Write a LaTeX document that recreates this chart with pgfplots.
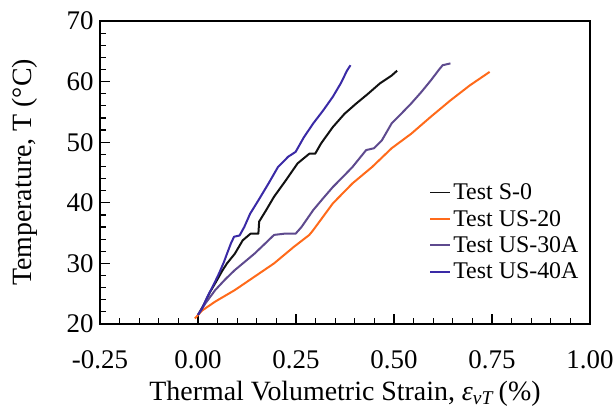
\documentclass[border=0pt]{standalone}
\usepackage{fontspec}
\setmainfont{Liberation Serif}
\usepackage{pgfplots}
\pgfplotsset{compat=1.18}
\definecolor{cblack}{HTML}{111111}
\definecolor{corange}{HTML}{FF6A1A}
\definecolor{cpurple}{HTML}{5E4A8E}
\definecolor{cblue}{HTML}{3A2AA6}
\begin{document}
\begin{tikzpicture}
\begin{axis}[
  scale only axis,
  width=490bp, height=303bp,
  xmin=-0.25, xmax=1.0, ymin=20, ymax=70,
  xtick={-0.25,0,0.25,0.5,0.75,1.0},
  xticklabels={-0.25,0.00,0.25,0.50,0.75,1.00},
  ytick={20,30,40,50,60,70},
  minor x tick num=4, minor y tick num=4,
  tick pos=left, tick align=inside,
  major tick length=10bp, minor tick length=6bp,
  every tick/.style={black, line width=1.2bp},
  axis line style={line width=1.6bp},
  /pgf/number format/assume math mode=true,
  tick label style={font=\fontsize{27}{30}\selectfont},
  xticklabel style={yshift=-23bp},
  yticklabel style={xshift=-3bp},
  xlabel={Thermal Volumetric Strain, \textit{ε}\textsubscript{\textit{vT}}\,(\%)},
  ylabel={Temperature, T (°C)},
  label style={font=\fontsize{28}{32}\selectfont, inner sep=0pt},
  xlabel style={at={(rel axis cs:0.5,-0.188)}, anchor=north},
  ylabel style={at={(rel axis cs:-0.128,0.5)}, anchor=south},
  legend style={at={(rel axis cs:0.672,0.47)}, anchor=north west, draw=none, fill=none,
    font=\fontsize{24}{27}\selectfont, row sep=5bp, inner sep=0pt},
  legend cell align=left,
  legend image code/.code={\draw[#1, line width=1.8bp] (0bp,0bp) -- (20bp,0bp);},
  every axis plot/.append style={line width=2bp, line join=round},
]
\addplot[cblack] coordinates {(0.000,21.5) (0.015,23.2) (0.030,25.2) (0.049,27.3) (0.062,28.8) (0.074,30.0) (0.094,31.6) (0.114,33.8) (0.134,34.9) (0.154,34.9) (0.156,36.9) (0.174,38.8) (0.194,41.0) (0.224,43.7) (0.254,46.5) (0.284,48.1) (0.299,48.1) (0.314,49.8) (0.344,52.5) (0.374,54.7) (0.404,56.4) (0.434,58.0) (0.464,59.7) (0.494,61.0) (0.508,61.8)};
\addlegendentry{Test S-0}
\addplot[corange] coordinates {(-0.008,20.9) (0.010,22.2) (0.044,23.7) (0.094,25.6) (0.144,27.8) (0.194,30.0) (0.244,32.7) (0.284,34.7) (0.294,35.5) (0.344,39.9) (0.394,43.2) (0.444,45.9) (0.494,49.0) (0.544,51.4) (0.594,54.2) (0.644,56.9) (0.694,59.4) (0.744,61.6)};
\addlegendentry{Test US-20}
\addplot[cpurple] coordinates {(0.000,21.5) (0.020,23.5) (0.044,25.6) (0.070,27.4) (0.094,28.9) (0.120,30.3) (0.144,31.6) (0.170,33.2) (0.194,34.7) (0.220,34.9) (0.249,34.9) (0.264,36.0) (0.294,38.8) (0.320,40.8) (0.344,42.6) (0.370,44.3) (0.394,45.9) (0.429,48.7) (0.449,49.0) (0.469,50.3) (0.494,53.1) (0.520,54.8) (0.544,56.4) (0.570,58.3) (0.594,60.2) (0.614,61.9) (0.624,62.7) (0.644,63.0)};
\addlegendentry{Test US-30A}
\addplot[cblue] coordinates {(0.000,21.5) (0.010,22.5) (0.024,24.5) (0.040,26.5) (0.054,28.4) (0.066,30.2) (0.074,31.6) (0.084,33.3) (0.092,34.4) (0.106,34.6) (0.118,36.0) (0.133,38.2) (0.154,40.4) (0.180,43.2) (0.204,45.9) (0.230,47.6) (0.249,48.4) (0.270,50.8) (0.294,53.1) (0.320,55.3) (0.344,57.5) (0.365,59.8) (0.380,61.8) (0.389,62.7)};
\addlegendentry{Test US-40A}
\end{axis}
\pgfresetboundingbox
\path (current axis.south west) ++(-100bp,-84bp) rectangle ([xshift=24bp,yshift=21bp]current axis.north east);
\end{tikzpicture}
\end{document}
